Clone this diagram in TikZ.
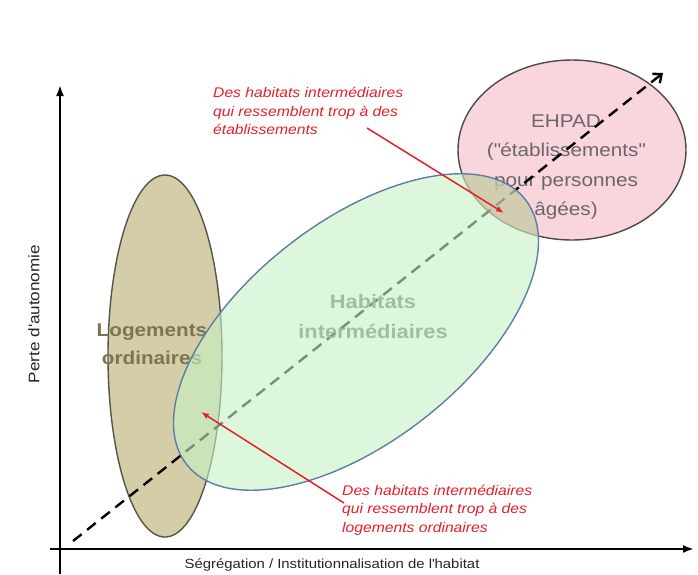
\documentclass[tikz,border=0pt]{standalone}
\usepackage{fontspec}
\setmainfont{Liberation Sans}[FakeStretch=1.12]
\usetikzlibrary{arrows.meta}
\newcommand\myquote{\XeTeXglyph\XeTeXcharglyph"22\relax}
\newcommand\myapos{\XeTeXglyph\XeTeXcharglyph"27\relax}
\definecolor{tanfill}{RGB}{212,205,168}
\definecolor{tanborder}{RGB}{85,85,72}
\definecolor{greenfillc}{RGB}{197,242,197}
\definecolor{greenborder}{RGB}{95,125,165}
\definecolor{pinkfill}{RGB}{248,214,220}
\definecolor{pinkborder}{RGB}{80,72,75}
\definecolor{khaki}{RGB}{200,175,140}
\definecolor{redc}{RGB}{230,32,42}
\definecolor{logtextc}{RGB}{120,118,85}
\definecolor{habtextc}{RGB}{160,190,160}
\definecolor{ehpadtextc}{RGB}{108,102,108}
\begin{document}
\begin{tikzpicture}[x=1pt,y=-1pt,
  axisline/.style={line width=2.2pt,-{Latex[length=11pt,width=8pt]}},
  diag/.style={line width=2.4pt,dash pattern=on 11pt off 7pt,-{Straight Barb[length=7pt,width=12pt]}},
  redarrow/.style={draw=redc,line width=1.5pt,-{Latex[length=8pt,width=6pt]}},
  redlabel/.style={text=redc,font=\fontsize{14}{18.5}\selectfont\itshape,align=left,inner sep=0pt},
  ehpadtext/.style={text=ehpadtextc,font=\fontsize{18.5}{29.5}\selectfont,align=center,inner sep=0pt},
  logtext/.style={text=logtextc,font=\fontsize{18.5}{28}\selectfont\bfseries,align=center,inner sep=0pt},
  habtext/.style={text=habtextc,font=\fontsize{19.5}{30}\selectfont\bfseries,align=center,inner sep=0pt},
  axislabel/.style={font=\fontsize{13.3}{16}\selectfont,inner sep=0pt,text=black!85},
  ehpadell/.style={fill=pinkfill,draw=pinkborder,line width=1.4pt},
  logell/.style={fill=tanfill,draw=tanborder,line width=1.4pt},
  greenell/.style={fill=greenfillc,fill opacity=0.6},
  greenedge/.style={draw=greenborder,line width=1.4pt}
]
\useasboundingbox (0,0) rectangle (698,574);
\fill[white] (0,0) rectangle (698,574);

% EHPAD
\path[ehpadell] (572,150) ellipse [x radius=114, y radius=90];
\node[ehpadtext] (ehpad) at (566,167) {EHPAD\\(\myquote établissements\myquote\\pour personnes\\âgées)};

% Logements ordinaires
\path[logell] (165,356) ellipse [x radius=57, y radius=181];
\node[logtext] (logt) at (152,344) {Logements\\ordinaires};

% diagonal dashed arrow
\coordinate (dstart) at (73,541);
\coordinate (dend) at (663,73);
\draw[diag] (dstart) -- (dend);

% Habitats intermediaires
\path[greenell, rotate around={38:(356,332)}] (356,332) ellipse [x radius=215, y radius=110];
\begin{scope}
  \clip[rotate around={38:(356,332)}] (356,332) ellipse [x radius=215, y radius=110];
  \fill[khaki,fill opacity=0.45] (572,150) ellipse [x radius=114, y radius=90];
\end{scope}
\path[greenedge, rotate around={38:(356,332)}] (356,332) ellipse [x radius=215, y radius=110];
\node[habtext] (habt) at (373,317) {Habitats\\intermédiaires};

% axes
\coordinate (yb) at (60,574);
\coordinate (yt) at (60,85);
\coordinate (xl) at (50,549);
\coordinate (xr) at (694,549);
\draw[axisline] (yb) -- (yt);
\draw[axisline] (xl) -- (xr);
\node[axislabel] (xlab) at (332,565) {Ségrégation / Institutionnalisation de l\myapos habitat};
\node[axislabel,font=\fontsize{15.3}{18}\selectfont,rotate=90] (ylab) at (34,314) {Perte d\myapos autonomie};

% red labels and arrows
\node[redlabel,anchor=west] (lab1) at (213,111) {Des habitats intermédiaires\\qui ressemblent trop à des\\établissements};
\node[redlabel,anchor=west] (lab2) at (342,510) {Des habitats intermédiaires\\qui ressemblent trop à des\\logements ordinaires};
\coordinate (s1) at (367,128);
\coordinate (t1) at (504,213);
\coordinate (s2) at (344,503);
\coordinate (t2) at (201,412);
\draw[redarrow] (s1) -- (t1);
\draw[redarrow] (s2) -- (t2);
\end{tikzpicture}
\end{document}
